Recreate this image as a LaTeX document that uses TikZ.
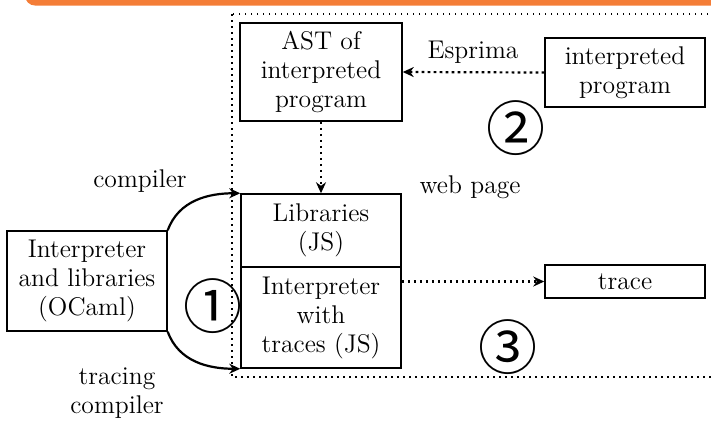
\documentclass[tikz,border=0pt]{standalone}
\usepackage{fontspec}
\newfontfamily\circfont{Noto Sans CJK JP}
\usetikzlibrary{arrows.meta}
\definecolor{barorange}{RGB}{244,125,55}

\tikzset{
	box/.style={draw, line width=0.75pt, align=center, inner sep=0pt},
	flow/.style={line width=1.1pt, -{Stealth[length=5.5pt,width=5pt]}},
	dotflow/.style={flow, dash pattern=on 1.3pt off 1.7pt},
	framed/.style={line width=0.75pt, dash pattern=on 0.75pt off 2.25pt},
	num/.style={font=\circfont\fontsize{29.5}{29.5}\selectfont, inner sep=0pt},
}

\begin{document}
\begin{tikzpicture}[x=0.5pt, y=-0.5pt, font=\fontsize{12.8}{14.5}\selectfont]
		%%%%% START %%%%%
		\useasboundingbox (0,0) rectangle (711,420);
		\clip (0,0) rectangle (711,420);
		
		\fill[barorange, rounded corners=5pt] (25,-20) rectangle (740,5.5);
		
		% web page
		\draw[framed] (232,14) rectangle (740,377);
		
		\node[box, minimum width=80pt, minimum height=50pt] (ocaml) at (87,281) {Interpreter\\and libraries\\(OCaml)};
		\node[box, minimum width=81pt, minimum height=49pt] (ast) at (321,72) {AST of\\interpreted\\program};
		\node[box, minimum width=80pt, minimum height=36.5pt] (libs) at (321,230.5) {Libraries\\(JS)};
		\node[box, minimum width=80pt, minimum height=50.5pt] (interp) at (321,317.5) {Interpreter\\with\\traces (JS)};
		\node[box, minimum width=80pt, minimum height=34.5pt] (prog) at (625,72.5) {interpreted\\program};
		\node[box, minimum width=80pt, minimum height=16.5pt] (trace) at (625,281.5) {trace};
		
		\node (esprima) at (473,52) {Esprima};
		\node (web) at (470,187) {web page};
		\node (comp) at (140,181) {compiler};
		\node[align=center] (tcomp) at (117,393) {tracing\\compiler};
		
		\node[num] (one) at (212.5,306.5) {①};
		\node[num] (two) at (515.5,128) {②};
		\node[num] (three) at (508,347) {③};
		
		\draw[flow] (ocaml.north east) to[out=70, in=180] (libs.north west);
		\draw[flow] (ocaml.south east) to[out=-70, in=180] (interp.south west);
		
		\draw[dotflow] (prog.west) -- (ast.east);
		\draw[dotflow] (ast.south) -- (libs.north);
		\draw[dotflow] (trace.west -| interp.east) -- (trace.west);
		%%%%% END %%%%%
\end{tikzpicture}
\end{document}
